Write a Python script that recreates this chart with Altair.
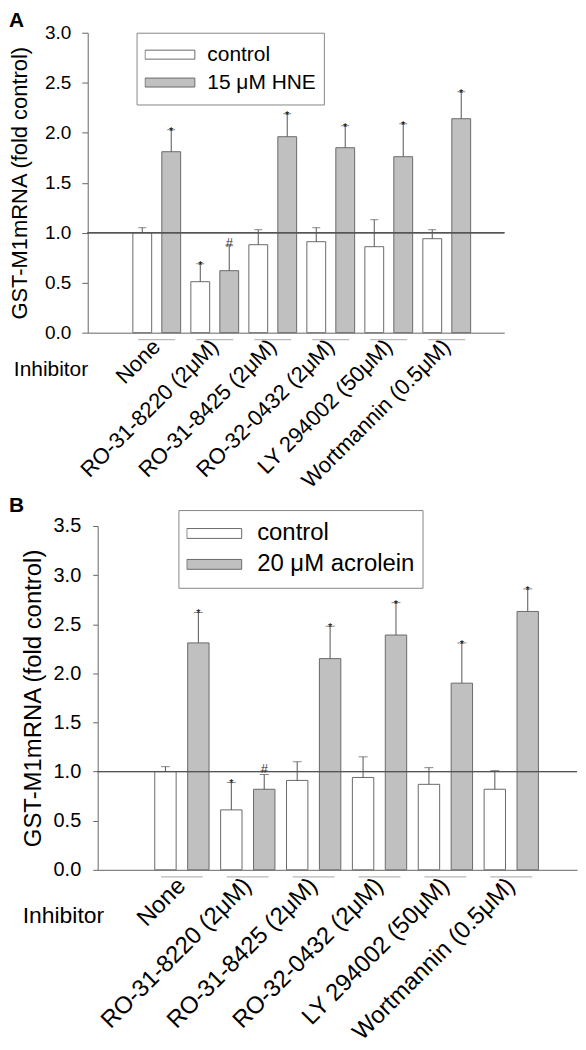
import altair as alt
import pandas as pd

# ---------------- data ----------------
inhibitors = ["None", "RO-31-8220 (2\u03bcM)", "RO-31-8425 (2\u03bcM)",
              "RO-32-0432 (2\u03bcM)", "LY 294002 (50\u03bcM)", "Wortmannin (0.5\u03bcM)"]

# Panel A : 15 uM HNE
a_series = ["control", "15 \u03bcM HNE"]
a_control = [1.00, 0.51, 0.88, 0.91, 0.86, 0.94]
a_control_err = [0.05, 0.18, 0.15, 0.14, 0.27, 0.09]
a_control_sig = ["", "*", "", "", "", ""]
a_treat = [1.81, 0.62, 1.96, 1.85, 1.76, 2.14]
a_treat_err = [0.22, 0.25, 0.23, 0.22, 0.33, 0.27]
a_treat_sig = ["*", "#", "*", "*", "*", "*"]

# Panel B : 20 uM acrolein
b_series = ["control", "20 \u03bcM acrolein"]
b_control = [1.00, 0.61, 0.91, 0.94, 0.87, 0.82]
b_control_err = [0.05, 0.28, 0.19, 0.21, 0.17, 0.19]
b_control_sig = ["", "*", "", "", "", ""]
b_treat = [2.31, 0.82, 2.15, 2.39, 1.90, 2.63]
b_treat_err = [0.31, 0.15, 0.33, 0.33, 0.41, 0.23]
b_treat_sig = ["*", "#", "*", "*", "*", "*"]

FONT = "Liberation Sans, Arial, sans-serif"
FILLS = ["white", "#c0c0c0"]
BAR_STROKE = "#6a6a6a"
ERR = "#555555"


def make_panel(letter, series, ctrl, ctrl_err, ctrl_sig, trt, trt_err, trt_sig,
               ymax, W, H, shift, grp_pad, grp_align, under_size, cap_size, hash_dy,
               leg_x, leg_y, clip_h, sym_size, leg_off, leg_fs,
               tick_fs, tick_size, tick_pad, ytitle_fs, ytitle_pad, xlab_fs, xlab_pad,
               inh_fs, inh_x, inh_y, title_dx, title_off):
    df = pd.DataFrame({
        "inhibitor": inhibitors * 2,
        "series": [series[0]] * 6 + [series[1]] * 6,
        "value": ctrl + trt,
        "err": ctrl_err + trt_err,
        "sig": ctrl_sig + trt_sig,
    })
    groups = pd.DataFrame({"inhibitor": inhibitors})

    x_enc = alt.X("inhibitor:N", sort=inhibitors,
                  scale=alt.Scale(range=[-shift, W], paddingInner=0,
                                  paddingOuter=grp_pad, align=grp_align),
                  axis=alt.Axis(title="Inhibitor", titleAngle=0, titleAlign="right",
                                titleBaseline="middle", titleX=inh_x, titleY=inh_y,
                                titleFontSize=inh_fs, titleFontWeight="normal",
                                titleColor="black", titleFont=FONT,
                                labelAngle=-45, labelAlign="right", labelBaseline="middle",
                                labelFontSize=xlab_fs, labelFont=FONT, labelColor="black",
                                labelPadding=xlab_pad, labelLimit=0, ticks=False,
                                domainColor="#666666", domainWidth=1, grid=False))
    xo_enc = alt.XOffset("series:N", sort=series,
                         scale=alt.Scale(paddingInner=0.35, paddingOuter=0.176))
    y_scale = alt.Scale(domain=[0, ymax], nice=False, zero=True)
    y_axis = alt.Axis(title="GST-M1mRNA (fold control)", titleFontSize=ytitle_fs,
                      titleFontWeight="normal", titleFont=FONT, titleColor="black",
                      titlePadding=ytitle_pad, offset=shift,
                      values=[i * 0.5 for i in range(int(ymax * 2) + 1)],
                      format=".1f", labelFontSize=tick_fs, labelFont=FONT,
                      labelColor="black", labelPadding=tick_pad, tickSize=tick_size,
                      tickColor="#666666", domainColor="#666666", grid=False)

    base = alt.Chart(df).transform_calculate(top="datum.value + datum.err")

    bars = base.mark_bar(stroke=BAR_STROKE, strokeWidth=1).encode(
        x=x_enc, xOffset=xo_enc,
        y=alt.Y("value:Q", scale=y_scale, axis=y_axis),
        fill=alt.Fill("series:N", sort=series,
                      scale=alt.Scale(domain=series, range=FILLS),
                      legend=alt.Legend(title=None, orient="none", legendX=leg_x, legendY=leg_y,
                                        direction="vertical",
                                        symbolType="M-1,-0.18H1V0.18H-1Z",
                                        symbolSize=sym_size, symbolStrokeColor=BAR_STROKE,
                                        symbolStrokeWidth=1, clipHeight=clip_h, rowPadding=0,
                                        labelOffset=leg_off, labelFontSize=leg_fs,
                                        labelFont=FONT, labelColor="black",
                                        padding=8, strokeColor="#888888", fillColor="white",
                                        cornerRadius=0)),
    )

    err_rule = base.mark_rule(color=ERR, strokeWidth=1).encode(
        x=x_enc, xOffset=xo_enc,
        y=alt.Y("value:Q", scale=y_scale, axis=y_axis), y2="top:Q")

    caps = base.mark_tick(color=ERR, thickness=1, size=cap_size, orient="horizontal").encode(
        x=x_enc, xOffset=xo_enc,
        y=alt.Y("top:Q", scale=y_scale, axis=y_axis))

    stars = base.mark_text(fontSize=11, font=FONT, color="black", baseline="alphabetic",
                           dy=5).transform_filter("datum.sig == '*'").encode(
        x=x_enc, xOffset=xo_enc,
        y=alt.Y("top:Q", scale=y_scale, axis=y_axis), text="sig:N")

    hashes = base.mark_text(fontSize=13, font=FONT, color="#333333", baseline="alphabetic",
                            dy=hash_dy).transform_filter("datum.sig == '#'").encode(
        x=x_enc, xOffset=xo_enc,
        y=alt.Y("top:Q", scale=y_scale, axis=y_axis), text="sig:N")

    ref = alt.Chart(groups).mark_rule(color="#555555", strokeWidth=1).encode(
        x=alt.value(-shift), x2=alt.value(W),
        y=alt.datum(1.0, scale=y_scale, axis=y_axis))

    under = alt.Chart(groups).mark_tick(color="#9a9a9a", thickness=1.3, size=under_size,
                                        orient="horizontal").encode(
        x=x_enc, y=alt.value(H + 7))

    return alt.layer(bars, ref, err_rule, caps, stars, hashes, under).properties(
        width=W, height=H,
        title=alt.TitleParams(letter, anchor="start", frame="group", dx=title_dx,
                              offset=title_off, fontSize=21, fontWeight="bold",
                              font=FONT, color="black"))


# panel A: y axis drawn 10 px left of the shared column origin
panel_a = make_panel("A", a_series, a_control, a_control_err, a_control_sig,
                     a_treat, a_treat_err, a_treat_sig,
                     ymax=3.0, W=408, H=301, shift=10, grp_pad=0.591, grp_align=0.584,
                     under_size=37, cap_size=8, hash_dy=1,
                     leg_x=39, leg_y=0, clip_h=28, sym_size=2500, leg_off=12, leg_fs=21,
                     tick_fs=19, tick_size=6, tick_pad=11, ytitle_fs=22, ytitle_pad=13,
                     xlab_fs=22, xlab_pad=10,
                     inh_fs=21, inh_x=-10, inh_y=37, title_dx=-89, title_off=-7.5)

panel_b = make_panel("B", b_series, b_control, b_control_err, b_control_sig,
                     b_treat, b_treat_err, b_treat_sig,
                     ymax=3.5, W=481, H=345, shift=0, grp_pad=0.638, grp_align=0.61,
                     under_size=42, cap_size=9, hash_dy=-2,
                     leg_x=81, leg_y=-16, clip_h=31, sym_size=3025, leg_off=15, leg_fs=24,
                     tick_fs=20, tick_size=5, tick_pad=12, ytitle_fs=24, ytitle_pad=8,
                     xlab_fs=24, xlab_pad=12,
                     inh_fs=23, inh_x=6, inh_y=46, title_dx=-89, title_off=-6)

chart = alt.vconcat(panel_a, panel_b, spacing=2).resolve_scale(
    x="independent", y="independent", xOffset="independent", fill="independent"
).resolve_legend(fill="independent").properties(
    padding=0
).configure_view(strokeWidth=0)

chart.save("out.html", embed_options={"renderer": "svg", "actions": False})
